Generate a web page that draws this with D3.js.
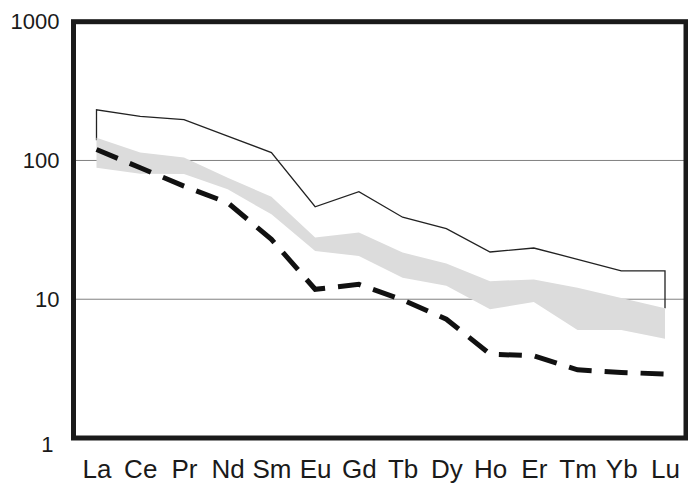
<!DOCTYPE html>
<html>
<head>
<meta charset="utf-8">
<script src="https://cdnjs.cloudflare.com/ajax/libs/d3/7.8.5/d3.min.js"></script>
<style>
  body { margin: 0; background: #fff; }
  svg { display: block; font-family: "Liberation Sans", Arial, sans-serif; }
</style>
</head>
<body>
<div id="chart"></div>
<script>
let width = 688, height = 484;

// REE names along the x axis
let elements = ['La', 'Ce', 'Pr', 'Nd', 'Sm', 'Eu', 'Gd', 'Tb', 'Dy', 'Ho', 'Er', 'Tm', 'Yb', 'Lu'];

// upper field outline (thin line)
let fieldTop = [232, 208, 197, 150, 114, 46.4, 59.6, 39, 32.3, 21.9, 23.4, 19.4, 16, 16];
let fieldLaBottom = 140;
let fieldLuBottom = 8.6;

// grey band
let bandTop = [146, 114, 105, 75, 54.8, 27.8, 30.2, 21.7, 18.1, 13.5, 13.9, 12.1, 10.2, 8.6];
let bandBottom = [88.6, 80.2, 80, 61.9, 40.9, 22.3, 20.5, 14.3, 12.5, 8.47, 9.57, 6.0, 6.0, 5.2];

// dashed pattern
let dashed = [120, 88.6, 65.3, 49.6, 27, 11.8, 12.8, 9.9, 7.18, 4.02, 3.91, 3.1, 2.97, 2.89];

let yTicks = [1, 10, 100, 1000];
let gridVals = [10, 100];

let frame = { left: 73.5, right: 686, top: 21.7, bottom: 438 };

let svg = d3.select("#chart")
  .append("svg")
  .attr("width", width)
  .attr("height", height);

let x = d3.scalePoint()
  .domain(elements)
  .range([96.5, 665]);

let y = d3.scaleLog()
  .domain([1, 1000])
  .range([frame.bottom, frame.top]);

// gridlines
svg.selectAll(".grid")
  .data(gridVals)
  .enter().append("line")
  .attr("x1", frame.left)
  .attr("x2", frame.right)
  .attr("y1", d => y(d))
  .attr("y2", d => y(d))
  .attr("stroke", "#808080")
  .attr("stroke-width", 1);

// field outline: up the La side, across the top, down the Lu side
let fieldPts = [[elements[0], fieldLaBottom]]
  .concat(elements.map((e, i) => [e, fieldTop[i]]))
  .concat([[elements[elements.length - 1], fieldLuBottom]]);

let line = d3.line()
  .x(d => x(d[0]))
  .y(d => y(d[1]));

svg.append("path")
  .attr("d", line(fieldPts))
  .attr("fill", "none")
  .attr("stroke", "#222")
  .attr("stroke-width", 1.3);

// grey band
let area = d3.area()
  .x((d, i) => x(elements[i]))
  .y0((d, i) => y(bandBottom[i]))
  .y1((d, i) => y(bandTop[i]));

svg.append("path")
  .attr("d", area(elements))
  .attr("fill", "#dcdcdc");

// dashed line
svg.append("path")
  .attr("d", line(elements.map((e, i) => [e, dashed[i]])))
  .attr("fill", "none")
  .attr("stroke", "#111")
  .attr("stroke-width", 5)
  .attr("stroke-dasharray", "23,13");

// frame
svg.append("rect")
  .attr("x", frame.left)
  .attr("y", frame.top)
  .attr("width", frame.right - frame.left)
  .attr("height", frame.bottom - frame.top)
  .attr("fill", "none")
  .attr("stroke", "#1a1a1a")
  .attr("stroke-width", 5);

// y axis labels
let yAxis = svg.append("g")
  .attr("transform", "translate(" + (frame.left - 14) + ",0)")
  .call(d3.axisLeft(y).tickValues(yTicks).tickFormat(d3.format("d")).tickSize(0).tickPadding(0));
yAxis.select(".domain").remove();
yAxis.selectAll("text")
  .attr("fill", "#1a1a1a")
  .style("font-size", "22px")
  .style("font-family", "'Liberation Sans', Arial, sans-serif");
yAxis.selectAll(".tick")
  .filter(d => d === 1)
  .select("text")
  .attr("x", -6)
  .attr("dy", "0.6em");

// x axis labels
let xAxis = svg.append("g")
  .attr("transform", "translate(0," + frame.bottom + ")")
  .call(d3.axisBottom(x).tickSize(0).tickPadding(0));
xAxis.select(".domain").remove();
xAxis.selectAll("text")
  .attr("y", 40)
  .attr("dy", 0)
  .attr("fill", "#1a1a1a")
  .style("font-size", "26px")
  .style("font-family", "'Liberation Sans', Arial, sans-serif");
</script>
</body>
</html>
